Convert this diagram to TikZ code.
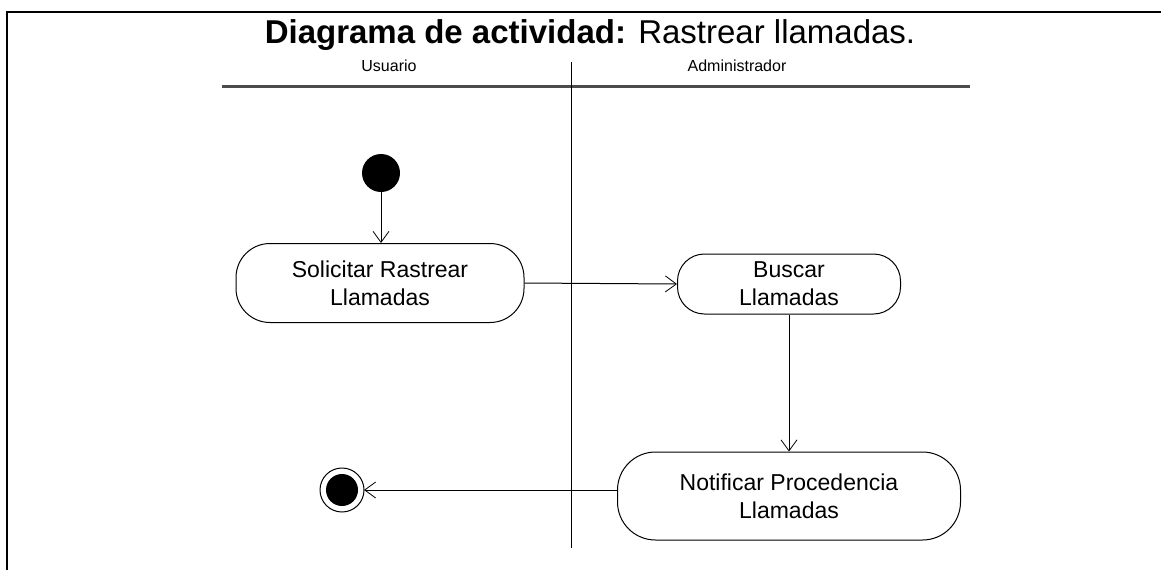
\documentclass[tikz,border=0pt]{standalone}
\usepackage{fontspec}
\setmainfont{Liberation Sans}
\usetikzlibrary{arrows.meta}
\begin{document}
\begin{tikzpicture}[x=1pt,y=-1pt,
  act/.style={draw,line width=1pt,rounded corners=34pt,align=center,
    font=\fontsize{23}{28}\selectfont,inner sep=0pt},
  flow/.style={draw,line width=1pt,-{Straight Barb[length=11pt,width=16pt,line width=0.8pt]}},
  lanelbl/.style={font=\fontsize{16}{18}\selectfont},
  ]
\useasboundingbox (0,0) rectangle (1161,570);
% frame
\draw[line width=1.5pt] (7,570) -- (7,12) -- (1161,12);
% title
\node[font=\fontsize{33}{38}\selectfont] (title) at (590,35)
  {\textbf{Diagrama de actividad:} Rastrear llamadas.};
% swimlanes
\node[lanelbl] (lu) at (389,66) {Usuario};
\node[lanelbl] (la) at (737,66) {Administrador};
\draw[line width=3pt,black!70] (222,86) -- (970,86);
\draw[line width=1pt] (571,62) -- (571,548);
% nodes
\fill (381,173) circle (19) coordinate (init);
\node[act,minimum width=288pt,minimum height=79pt] (sol) at (380,283)
  {Solicitar Rastrear\\Llamadas};
\node[act,minimum width=223pt,minimum height=60pt,rounded corners=27pt] (bus) at (789,284)
  {Buscar\\Llamadas};
\node[act,minimum width=343pt,minimum height=88pt,rounded corners=38pt] (not) at (789,496)
  {Notificar Procedencia\\Llamadas};
\draw[line width=1pt] (342,490) circle (22);
\fill (342,490) circle (16);
\coordinate (fin) at (364,490);
\coordinate (initb) at (381,192);
% flows
\draw[flow] (initb) -- (sol.north -| initb);
\draw[flow] (sol.east) -- (bus.west);
\draw[flow] (bus.south) -- (not.north);
\draw[flow] (not.west |- fin) -- (fin);
\end{tikzpicture}
\end{document}
